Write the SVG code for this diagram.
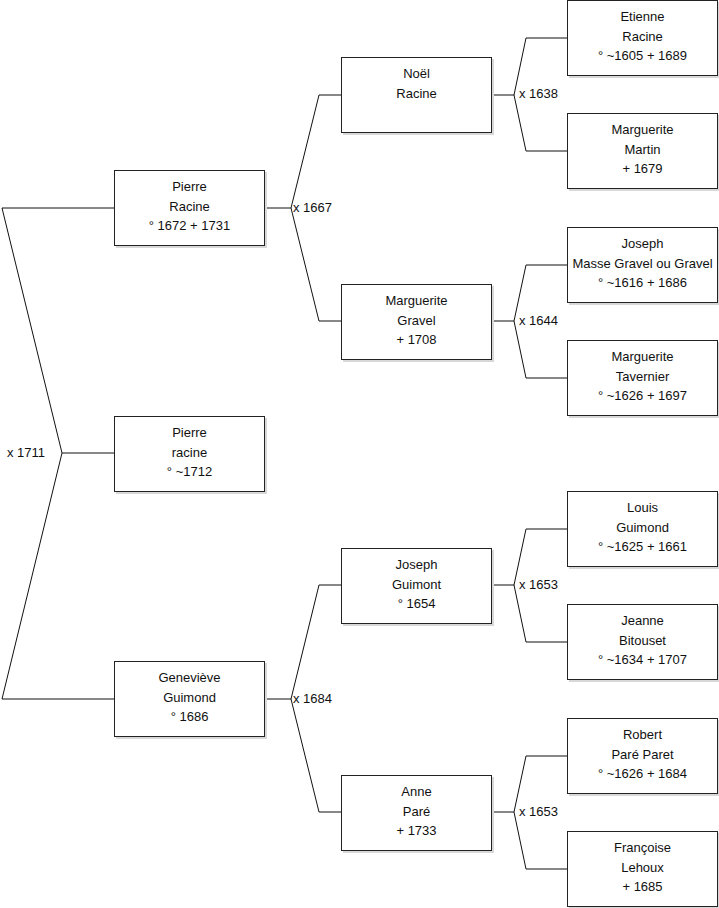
<svg xmlns="http://www.w3.org/2000/svg" width="719" height="908" viewBox="0 0 719 908">
<style>
.box{fill:#fff;stroke:#222;stroke-width:1}
.sh{fill:#d8d8d8}
.t{font-family:"Liberation Sans",Arial,sans-serif;font-size:13px;fill:#111;text-anchor:middle}
.l{font-family:"Liberation Sans",Arial,sans-serif;font-size:13px;fill:#111;dominant-baseline:central}
.c{fill:none;stroke:#111;stroke-width:1}
</style>
<rect width="719" height="908" fill="#fff"/>
<g id="connectors">
<path class="c" d="M2,208 H114 M2,208 L62,453 L2,699 H114 M62,453 H114"/>
<path class="c" d="M265,208 H291 M319,95 L291,208 L319,321 M319,95 H341 M319,321 H341"/>
<path class="c" d="M265,699 H291 M319,585 L291,699 L319,812 M319,585 H341 M319,812 H341"/>
<path class="c" d="M492,95 H514 M526,38 L514,95 L526,151 M526,38 H567 M526,151 H567"/>
<path class="c" d="M492,321 H514 M526,265 L514,321 L526,378 M526,265 H567 M526,378 H567"/>
<path class="c" d="M492,585 H514 M526,529 L514,585 L526,642 M526,529 H567 M526,642 H567"/>
<path class="c" d="M492,812 H514 M526,756 L514,812 L526,869 M526,756 H567 M526,869 H567"/>
<text class="l" x="7" y="452">x 1711</text>
<text class="l" x="293" y="207">x 1667</text>
<text class="l" x="293" y="698">x 1684</text>
<text class="l" x="519" y="93">x 1638</text>
<text class="l" x="519" y="320">x 1644</text>
<text class="l" x="519" y="584">x 1653</text>
<text class="l" x="519" y="811">x 1653</text>
</g>
<g id="n1"><rect class="sh" x="116" y="172" width="151" height="76"/><rect class="box" x="114.5" y="170.5" width="150" height="75"/><text class="t" x="189.5" y="191">Pierre</text><text class="t" x="189.5" y="211">Racine</text><text class="t" x="189.5" y="230">° 1672 + 1731</text></g>
<g id="n2"><rect class="sh" x="116" y="418" width="151" height="76"/><rect class="box" x="114.5" y="416.5" width="150" height="75"/><text class="t" x="189.5" y="437">Pierre</text><text class="t" x="189.5" y="457">racine</text><text class="t" x="189.5" y="476">° ~1712</text></g>
<g id="n3"><rect class="sh" x="116" y="663" width="151" height="76"/><rect class="box" x="114.5" y="661.5" width="150" height="75"/><text class="t" x="189.5" y="682">Geneviève</text><text class="t" x="189.5" y="702">Guimond</text><text class="t" x="189.5" y="721">° 1686</text></g>
<g id="n4"><rect class="sh" x="343" y="59" width="151" height="76"/><rect class="box" x="341.5" y="57.5" width="150" height="75"/><text class="t" x="416.5" y="78">Noël</text><text class="t" x="416.5" y="98">Racine</text></g>
<g id="n5"><rect class="sh" x="343" y="286" width="151" height="76"/><rect class="box" x="341.5" y="284.5" width="150" height="75"/><text class="t" x="416.5" y="305">Marguerite</text><text class="t" x="416.5" y="325">Gravel</text><text class="t" x="416.5" y="344">+ 1708</text></g>
<g id="n6"><rect class="sh" x="343" y="550" width="151" height="76"/><rect class="box" x="341.5" y="548.5" width="150" height="75"/><text class="t" x="416.5" y="569">Joseph</text><text class="t" x="416.5" y="589">Guimont</text><text class="t" x="416.5" y="608">° 1654</text></g>
<g id="n7"><rect class="sh" x="343" y="777" width="151" height="76"/><rect class="box" x="341.5" y="775.5" width="150" height="75"/><text class="t" x="416.5" y="796">Anne</text><text class="t" x="416.5" y="816">Paré</text><text class="t" x="416.5" y="835">+ 1733</text></g>
<g id="n8"><rect class="sh" x="569" y="2" width="150" height="76"/><rect class="box" x="567.5" y="0.5" width="150" height="75"/><text class="t" x="642.5" y="21">Etienne</text><text class="t" x="642.5" y="41">Racine</text><text class="t" x="642.5" y="60">° ~1605 + 1689</text></g>
<g id="n9"><rect class="sh" x="569" y="115" width="150" height="76"/><rect class="box" x="567.5" y="113.5" width="150" height="75"/><text class="t" x="642.5" y="134">Marguerite</text><text class="t" x="642.5" y="154">Martin</text><text class="t" x="642.5" y="173">+ 1679</text></g>
<g id="n10"><rect class="sh" x="569" y="229" width="150" height="76"/><rect class="box" x="567.5" y="227.5" width="150" height="75"/><text class="t" x="642.5" y="248">Joseph</text><text class="t" x="642.5" y="268">Masse Gravel ou Gravel</text><text class="t" x="642.5" y="287">° ~1616 + 1686</text></g>
<g id="n11"><rect class="sh" x="569" y="342" width="150" height="76"/><rect class="box" x="567.5" y="340.5" width="150" height="75"/><text class="t" x="642.5" y="361">Marguerite</text><text class="t" x="642.5" y="381">Tavernier</text><text class="t" x="642.5" y="400">° ~1626 + 1697</text></g>
<g id="n12"><rect class="sh" x="569" y="493" width="150" height="76"/><rect class="box" x="567.5" y="491.5" width="150" height="75"/><text class="t" x="642.5" y="512">Louis</text><text class="t" x="642.5" y="532">Guimond</text><text class="t" x="642.5" y="551">° ~1625 + 1661</text></g>
<g id="n13"><rect class="sh" x="569" y="606" width="150" height="76"/><rect class="box" x="567.5" y="604.5" width="150" height="75"/><text class="t" x="642.5" y="625">Jeanne</text><text class="t" x="642.5" y="645">Bitouset</text><text class="t" x="642.5" y="664">° ~1634 + 1707</text></g>
<g id="n14"><rect class="sh" x="569" y="720" width="150" height="76"/><rect class="box" x="567.5" y="718.5" width="150" height="75"/><text class="t" x="642.5" y="739">Robert</text><text class="t" x="642.5" y="759">Paré Paret</text><text class="t" x="642.5" y="778">° ~1626 + 1684</text></g>
<g id="n15"><rect class="sh" x="569" y="833" width="150" height="75"/><rect class="box" x="567.5" y="831.5" width="150" height="75"/><text class="t" x="642.5" y="852">Françoise</text><text class="t" x="642.5" y="872">Lehoux</text><text class="t" x="642.5" y="891">+ 1685</text></g>
</svg>
